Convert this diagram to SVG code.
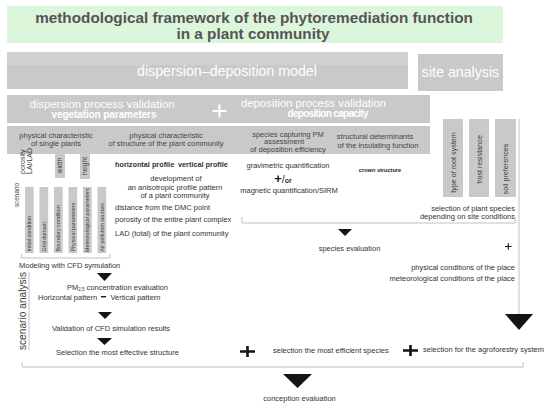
<svg xmlns="http://www.w3.org/2000/svg" width="550" height="407" viewBox="0 0 550 407">
<style>
text{font-family:"Liberation Sans",Arial,sans-serif;fill:#333;font-size:7.5px}
.box{fill:#c9c9c9}
.hdr{fill:#474747;text-anchor:middle}
.wt{fill:#fff;text-anchor:middle}
.m{text-anchor:middle}
.e{text-anchor:end}
.b{font-weight:bold}
.ln{stroke:#c2c2c2;stroke-width:1;fill:none}
.tri{fill:#141414}
.pl{stroke:#141414;fill:none}
.v{font-size:5.4px;fill:#3d3d3d}
.col{font-size:7.2px;fill:#3d3d3d;text-anchor:middle}
</style>
<rect width="550" height="407" fill="#fff"/>

<g id="title">
<rect x="7" y="6" width="496" height="37" fill="#dcf6dc"/>
<text x="254" y="22.5" class="m b" style="font-size:15.3px;fill:#555">methodological framework of the phytoremediation function</text>
<text x="253" y="39" class="m b" style="font-size:15.3px;fill:#555">in a plant community</text>
</g>

<g id="dispersion-deposition-model">
<rect x="7" y="52" width="401" height="37" class="box"/>
<rect x="7" y="52" width="401" height="13" fill="#d1d1d1"/>
<text x="227" y="76" class="wt" style="font-size:14.2px">dispersion–deposition model</text>
</g>

<g id="site-analysis">
<rect x="418" y="54" width="85" height="37" class="box"/>
<text x="460.5" y="77" class="wt" style="font-size:14.2px">site analysis</text>
</g>

<g id="validation-row">
<rect x="7" y="95" width="423" height="28" class="box"/>
<text x="102" y="107.5" class="wt" style="font-size:11.3px">dispersion process validation</text>
<text x="104" y="117.5" class="wt b" style="font-size:10px" textLength="105">vegetation parameters</text>
<text x="313.5" y="107" class="wt" style="font-size:11.3px">deposition process validation</text>
<text x="328" y="117" class="wt b" style="font-size:10px" textLength="81">deposition capacity</text>
<path d="M212.5 111H226.5M219.5 104.5V117.5" stroke="#fff" stroke-width="2.2" fill="none"/>
</g>

<g id="header-row">
<rect x="7" y="126" width="423" height="28" class="box"/>
<text x="56" y="137.5" class="hdr">physical characteristic</text>
<text x="56" y="145.5" class="hdr">of single plants</text>
<text x="166" y="138" class="hdr">physical characteristic</text>
<text x="166" y="146" class="hdr">of structure of the plant community</text>
<text x="288" y="136.5" class="hdr">species capturing PM</text>
<text x="284" y="144.2" class="hdr">assessment</text>
<text x="288" y="152" class="hdr">of deposition efficiency</text>
<text x="375" y="139" class="hdr">structural determinants</text>
<text x="378" y="147.5" class="hdr">of the insulating function</text>
</g>

<g id="single-plant-parameters">
<text transform="translate(24.5,174) rotate(-90)" style="font-size:7px;fill:#3d3d3d">porosity</text>
<text transform="translate(31.5,174) rotate(-90)" style="font-size:7px;fill:#3d3d3d">LAI/LAD</text>
<rect x="55" y="153" width="10" height="25" class="box"/>
<text transform="translate(62.3,165.5) rotate(-90)" class="col" style="font-size:6.6px">width</text>
<rect x="80" y="153" width="10" height="26" class="box"/>
<text transform="translate(87.3,166) rotate(-90)" class="col" style="font-size:6.6px">height</text>
</g>

<g id="scenario">
<text transform="translate(18.5,195) rotate(-90)" class="m" style="font-size:6.4px;fill:#3d3d3d">scenario</text>
<rect x="25" y="187" width="8.7" height="66" class="box"/>
<rect x="39.5" y="187" width="8.7" height="66" class="box"/>
<rect x="54" y="187" width="8.7" height="66" class="box"/>
<rect x="68.5" y="187" width="8.7" height="66" class="box"/>
<rect x="83" y="187" width="8.7" height="66" class="box"/>
<rect x="97.5" y="187" width="8.7" height="66" class="box"/>
<text transform="translate(31.3,251.5) rotate(-90)" class="v">Initial condition</text>
<text transform="translate(45.8,251.5) rotate(-90)" class="v">Grid domain</text>
<text transform="translate(60.3,251.5) rotate(-90)" class="v">Boundary condition</text>
<text transform="translate(74.8,251.5) rotate(-90)" class="v">Physical parameters</text>
<text transform="translate(89.3,252) rotate(-90)" class="v">Meteorological parameters</text>
<text transform="translate(103.8,251.5) rotate(-90)" class="v">Air pollution sources</text>
<text x="19" y="268">Modeling with CFD symulation</text>
</g>

<g id="community-structure">
<text x="115" y="166.5" class="b" style="font-size:7.3px">horizontal profile</text>
<text x="178" y="166.5" class="b" style="font-size:7.3px">vertical profile</text>
<text x="176" y="181" class="m">development of</text>
<text x="175" y="189.5" class="m">an anisotropic profile pattern</text>
<text x="175" y="198" class="m">of a plant community</text>
<text x="115" y="209.5">distance from the DMC point</text>
<text x="115" y="222">porosity of the entire plant complex</text>
<text x="115" y="235.5">LAD (total) of the plant community</text>
</g>

<g id="deposition-efficiency">
<text x="288" y="167.5" class="m">gravimetric quantification</text>
<text x="283" y="182.5" class="m"><tspan class="b" style="font-size:13px;fill:#222">+</tspan><tspan style="font-size:11px">/</tspan><tspan class="b" style="font-size:7px">or</tspan></text>
<text x="289" y="193" class="m">magnetic quantification/SIRM</text>
</g>

<g id="insulating-function">
<text x="380" y="171.5" class="m b" style="font-size:5.6px;fill:#222">crown structure</text>
</g>

<g id="site-parameters">
<rect x="443" y="119" width="20" height="78" class="box"/>
<rect x="469" y="119" width="20" height="78" class="box"/>
<rect x="495" y="119" width="21" height="78" class="box"/>
<text transform="translate(455.5,162.5) rotate(-90)" class="col">type of root system</text>
<text transform="translate(481.5,159.5) rotate(-90)" class="col">frost resistance</text>
<text transform="translate(508,169) rotate(-90)" class="col">soil preferences</text>
<text x="515" y="210.5" class="e">selection of plant species</text>
<text x="515" y="218.5" class="e">depending on site conditions</text>
</g>

<g id="species-evaluation">
<text x="349.5" y="251" class="m">species evaluation</text>
<path d="M505 246.5H511.5M508.25 243.2V249.8" class="pl" stroke-width="1.1"/>
<text x="515" y="270" class="e">physical conditions of the place</text>
<text x="515" y="280.5" class="e">meteorological conditions of the place</text>
</g>

<g id="scenario-analysis">
<text transform="translate(26,311) rotate(-90)" class="m" style="font-size:10.2px;fill:#3d3d3d">scenario analysis</text>
<text x="67" y="289.5">PM<tspan style="font-size:4.5px" dy="1.5">2.5</tspan><tspan dy="-1.5"> concentration evaluation</tspan></text>
<text x="38" y="300">Horizontal pattern</text>
<rect x="101" y="296" width="5" height="1.4" fill="#141414"/>
<text x="110.5" y="300">Vertical pattern</text>
<text x="111" y="330.5" class="m">Validation of CFD simulation results</text>
<text x="117.5" y="355" class="m">Selection the most effective structure</text>
</g>

<g id="selection">
<text x="273" y="353">selection the most efficient species</text>
<text x="423" y="352">selection for the agroforestry system</text>
<text x="299.5" y="401" class="m">conception evaluation</text>
</g>

<g id="connectors">
<path d="M242 217V223H515V217" class="ln"/>
<path d="M519 119V314" class="ln"/>
<path d="M21.5 254V258H110V254" class="ln"/>
<path d="M29 272V350" class="ln"/>
<path d="M22 362V367H523V362" class="ln"/>
<polygon points="97,273 112,273 104.5,281" class="tri"/>
<polygon points="98,312 112,312 105,319" class="tri"/>
<polygon points="97,338 112,338 104.5,345" class="tri"/>
<polygon points="338,229 352,229 345,236" class="tri"/>
<polygon points="505,314 533,314 519,330" class="tri"/>
<polygon points="283,374 312,374 297.5,388" class="tri"/>
<path d="M240 351.5H255M247.5 346V357" class="pl" stroke-width="2.6"/>
<path d="M403 350.5H418M410.5 345V356" class="pl" stroke-width="2.6"/>
</g>
</svg>
